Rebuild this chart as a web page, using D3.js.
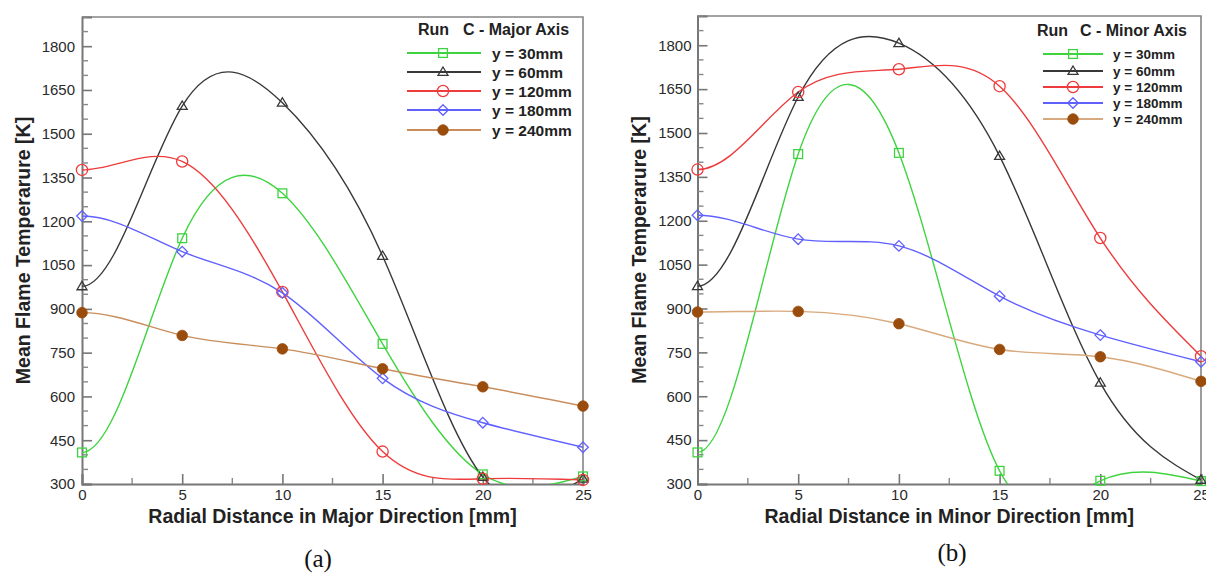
<!DOCTYPE html>
<html>
<head>
<meta charset="utf-8">
<script src="https://cdn.jsdelivr.net/npm/d3@7/dist/d3.min.js"></script>
<style>
  html, body { margin: 0; padding: 0; background: #fff; }
  svg { display: block; }
</style>
</head>
<body>
<svg id="chart" width="1206" height="574"></svg>
<script>
// ---------------- DATA ----------------
const radialDistance = [0, 5, 10, 15, 20, 25];
const seriesLabels = ["y = 30mm", "y = 60mm", "y = 120mm", "y = 180mm", "y = 240mm"];
const xTicks = [0, 5, 10, 15, 20, 25];
const yTicks = [300, 450, 600, 750, 900, 1050, 1200, 1350, 1500, 1650, 1800];

// (a) Major axis
const major30  = [408, 1142, 1296, 780, 333, 326];
const major60  = [977, 1595, 1606, 1081, 324, 318];
const major120 = [1376, 1405, 958, 411, 318, 314];
const major180 = [1218, 1096, 955, 662, 510, 426];
const major240 = [887, 809, 763, 695, 633, 567];

// (b) Minor axis
const minor30  = [408, 1428, 1432, 345, 311, 310];
const minor60  = [976, 1623, 1807, 1421, 646, 314];
const minor120 = [1375, 1640, 1718, 1660, 1141, 737];
const minor180 = [1219, 1137, 1114, 942, 809, 718];
const minor240 = [888, 890, 848, 760, 735, 651];

const panelTitles = ["C - Major Axis", "C - Minor Axis"];
const xTitles = ["Radial Distance in Major Direction [mm]", "Radial Distance in Minor Direction [mm]"];
const yTitle = "Mean Flame Temperarure [K]";
const captions = ["(a)", "(b)"];

// ---------------- STYLE ----------------
const SANS = "'Liberation Sans', Arial, Helvetica, sans-serif";
const SERIF = "'Liberation Serif', 'Times New Roman', serif";

const seriesStyle = [
  { color: "#3fd43f", symbol: "square" },
  { color: "#383838", symbol: "triangle" },
  { color: "#ee3b3b", symbol: "circle" },
  { color: "#6060ff", symbol: "diamond" },
  { color: "#c98d5c", symbol: "dot", fill: "#9a4c0c" }
];

const panels = [
  { id: "a", left: 82, right: 583, top: 17, bottom: 484, yPad: 7,
    data: [major30, major60, major120, major180, major240],
    title: panelTitles[0], xTitle: xTitles[0], caption: captions[0],
    captionX: 318, captionY: 567, yTitleX: 29.5,
    legend: { runX: 418, titleX: 463, titleY: 34.5, lineX0: 407, lineX1: 481, markX: 443, textX: 492,
              rows: [53, 72, 91, 110, 130], fs: 15.5, titleFs: 16, lineColor240: "#c98d5c" } },
  { id: "b", left: 697.5, right: 1201, top: 16, bottom: 484, yPad: 6,
    data: [minor30, minor60, minor120, minor180, minor240],
    title: panelTitles[1], xTitle: xTitles[1], caption: captions[1],
    captionX: 952, captionY: 561, yTitleX: 646,
    legend: { runX: 1037, titleX: 1080, titleY: 36, lineX0: 1043, lineX1: 1103, markX: 1073, textX: 1113,
              rows: [54, 71, 87, 103, 119], fs: 13.5, titleFs: 16, lineColor240: "#d8a97c" } }
];

// Cubic spline curve for d3.line: zero slope at the first point, natural at the last.
function ClampedStartSpline(context) { this._context = context; }
ClampedStartSpline.prototype = {
  areaStart() { this._line = 0; },
  areaEnd() { this._line = NaN; },
  lineStart() { this._x = []; this._y = []; },
  point(x, y) { this._x.push(+x); this._y.push(+y); },
  lineEnd() {
    const xs = this._x, ys = this._y, n = xs.length, ctx = this._context;
    if (n) {
      this._line ? ctx.lineTo(xs[0], ys[0]) : ctx.moveTo(xs[0], ys[0]);
      if (n === 2) ctx.lineTo(xs[1], ys[1]);
      else if (n > 2) {
        const h = [], d = [];
        for (let i = 0; i < n - 1; i++) { h.push(xs[i + 1] - xs[i]); d.push((ys[i + 1] - ys[i]) / h[i]); }
        const a = new Array(n).fill(0), b = new Array(n).fill(0), c = new Array(n).fill(0), r = new Array(n).fill(0);
        b[0] = 1; c[0] = 0; r[0] = 0;
        for (let i = 1; i < n - 1; i++) {
          a[i] = h[i]; b[i] = 2 * (h[i - 1] + h[i]); c[i] = h[i - 1];
          r[i] = 3 * (h[i] * d[i - 1] + h[i - 1] * d[i]);
        }
        a[n - 1] = 1; b[n - 1] = 2; r[n - 1] = 3 * d[n - 2];
        for (let i = 1; i < n; i++) {
          const w = a[i] / b[i - 1];
          b[i] -= w * c[i - 1]; r[i] -= w * r[i - 1];
        }
        const m = new Array(n);
        m[n - 1] = r[n - 1] / b[n - 1];
        for (let i = n - 2; i >= 0; i--) m[i] = (r[i] - c[i] * m[i + 1]) / b[i];
        for (let i = 0; i < n - 1; i++) {
          ctx.bezierCurveTo(xs[i] + h[i] / 3, ys[i] + m[i] * h[i] / 3,
                            xs[i + 1] - h[i] / 3, ys[i + 1] - m[i + 1] * h[i] / 3,
                            xs[i + 1], ys[i + 1]);
        }
      }
    }
    if (this._line || (this._line !== 0 && n === 1)) ctx.closePath();
    this._line = 1 - this._line;
    this._x = this._y = null;
  }
};
const curveClampedStart = context => new ClampedStartSpline(context);

const svg = d3.select("#chart");
const defs = svg.append("defs");

function drawMarker(g, type, cx, cy, color, fill) {
  if (type === "square") {
    const h = 4.4;
    g.append("rect").attr("x", cx - h).attr("y", cy - h).attr("width", 2 * h).attr("height", 2 * h)
      .attr("fill", "none").attr("stroke", color).attr("stroke-width", 1.3);
  } else if (type === "triangle") {
    const w = 5, hh = 8.4;
    g.append("path").attr("d", `M${cx},${cy - hh * 0.6}L${cx + w},${cy + hh * 0.4}L${cx - w},${cy + hh * 0.4}Z`)
      .attr("fill", "none").attr("stroke", color).attr("stroke-width", 1.3);
  } else if (type === "circle") {
    g.append("circle").attr("cx", cx).attr("cy", cy).attr("r", 5.6)
      .attr("fill", "none").attr("stroke", color).attr("stroke-width", 1.3);
  } else if (type === "diamond") {
    const h = 5.3;
    g.append("path").attr("d", `M${cx},${cy - h}L${cx + h},${cy}L${cx},${cy + h}L${cx - h},${cy}Z`)
      .attr("fill", "none").attr("stroke", color).attr("stroke-width", 1.3);
  } else if (type === "dot") {
    g.append("circle").attr("cx", cx).attr("cy", cy).attr("r", 5.3)
      .attr("fill", fill).attr("stroke", fill).attr("stroke-width", 0.8);
  }
}

panels.forEach(p => {
  const x = d3.scaleLinear().domain([0, 25]).range([p.left, p.right]);
  const y = d3.scaleLinear().domain([300, 1900]).range([p.bottom, p.top]);
  const g = svg.append("g");

  const clipId = "clip-" + p.id;
  defs.append("clipPath").attr("id", clipId)
    .append("rect").attr("x", p.left).attr("y", p.top)
    .attr("width", p.right - p.left).attr("height", p.bottom - p.top);

  // frame (top & right)
  g.append("path")
    .attr("d", `M${p.left},${p.top}H${p.right}V${p.bottom}`)
    .attr("fill", "none").attr("stroke", "#858585").attr("stroke-width", 1.6);

  // Y axis
  const yMinor = d3.range(300, 1901, 50).filter(v => v % 150 !== 0);
  const yAxis = d3.axisLeft(y).tickValues(yTicks).tickSize(-10).tickPadding(p.yPad).tickFormat(d3.format("d"));
  const yAxisG = g.append("g").attr("transform", `translate(${p.left},0)`).call(yAxis);
  yAxisG.select(".domain").attr("stroke", "#777").attr("stroke-width", 2);
  yAxisG.selectAll(".tick line").attr("stroke", "#777").attr("stroke-width", 1.6);
  yAxisG.selectAll(".tick text").style("font-size", "15px").style("font-family", SANS).attr("fill", "#2a2a2a");
  yAxisG.selectAll(".minor").data(yMinor).enter().append("line")
    .attr("class", "minor").attr("x1", 0).attr("x2", 6).attr("y1", d => y(d)).attr("y2", d => y(d))
    .attr("stroke", "#888").attr("stroke-width", 1.4);

  // X axis
  const xMinor = [2.5, 7.5, 12.5, 17.5, 22.5];
  const xAxis = d3.axisBottom(x).tickValues(xTicks).tickSize(-10).tickPadding(5).tickFormat(d3.format("d"));
  const xAxisG = g.append("g").attr("transform", `translate(0,${p.bottom})`).call(xAxis);
  xAxisG.select(".domain").attr("stroke", "#777").attr("stroke-width", 2);
  xAxisG.selectAll(".tick line").attr("stroke", "#777").attr("stroke-width", 1.6);
  xAxisG.selectAll(".tick text").style("font-size", "15px").style("font-family", SANS).attr("fill", "#2a2a2a");
  xAxisG.selectAll(".minor").data(xMinor).enter().append("line")
    .attr("class", "minor").attr("x1", d => x(d)).attr("x2", d => x(d)).attr("y1", 0).attr("y2", -6)
    .attr("stroke", "#888").attr("stroke-width", 1.4);

  // axis titles
  g.append("text").attr("x", (p.left + p.right) / 2).attr("y", 523)
    .attr("text-anchor", "middle").style("font-family", SANS).style("font-size", "19.5px")
    .style("font-weight", "bold").attr("fill", "#222").text(p.xTitle);
  g.append("text")
    .attr("transform", `translate(${p.yTitleX},${(p.top + p.bottom) / 2}) rotate(-90)`)
    .attr("text-anchor", "middle").style("font-family", SANS).style("font-size", "19.5px")
    .style("font-weight", "bold").attr("fill", "#222").text(yTitle);

  // caption
  g.append("text").attr("x", p.captionX).attr("y", p.captionY).attr("text-anchor", "middle")
    .style("font-family", SERIF).style("font-size", "25px").attr("fill", "#111").text(p.caption);

  // series lines
  const line = d3.line().x((d, i) => x(radialDistance[i])).y(d => y(d)).curve(curveClampedStart);
  const plotG = g.append("g").attr("clip-path", `url(#${clipId})`);
  p.data.forEach((vals, si) => {
    const st = seriesStyle[si];
    plotG.append("path").attr("d", line(vals)).attr("fill", "none")
      .attr("stroke", si === 4 ? p.legend.lineColor240 : st.color).attr("stroke-width", 1.4);
  });
  const markG = g.append("g");
  p.data.forEach((vals, si) => {
    const st = seriesStyle[si];
    vals.forEach((v, i) => drawMarker(markG, st.symbol, x(radialDistance[i]), y(v), st.color, st.fill));
  });

  // legend
  const L = p.legend;
  g.append("text").attr("x", L.runX).attr("y", L.titleY).style("font-family", SANS)
    .style("font-size", L.titleFs + "px").style("font-weight", "bold").attr("fill", "#222").text("Run");
  g.append("text").attr("x", L.titleX).attr("y", L.titleY).style("font-family", SANS)
    .style("font-size", L.titleFs + "px").style("font-weight", "bold").attr("fill", "#222").text(p.title);
  seriesLabels.forEach((lab, si) => {
    const st = seriesStyle[si];
    const cy = L.rows[si];
    g.append("line").attr("x1", L.lineX0).attr("x2", L.lineX1).attr("y1", cy).attr("y2", cy)
      .attr("stroke", si === 4 ? L.lineColor240 : st.color).attr("stroke-width", 1.8);
    drawMarker(g, st.symbol, L.markX, cy, st.color, st.fill);
    g.append("text").attr("x", L.textX).attr("y", cy + L.fs * 0.36).style("font-family", SANS)
      .style("font-size", L.fs + "px").style("font-weight", "bold").attr("fill", "#222").text(lab);
  });
});
</script>
</body>
</html>
